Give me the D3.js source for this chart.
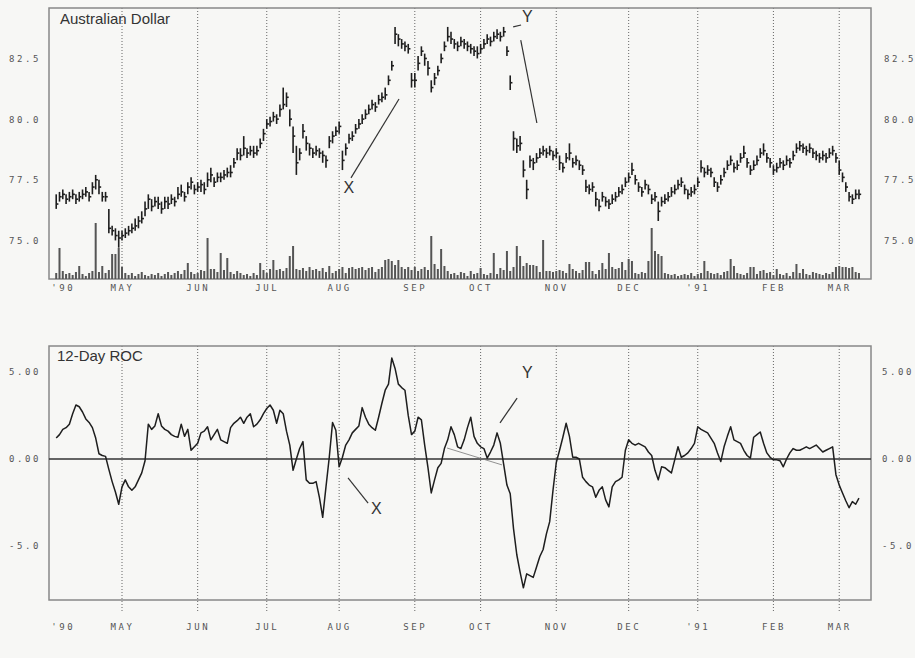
<!DOCTYPE html>
<html><head><meta charset="utf-8">
<script src="https://cdn.jsdelivr.net/npm/d3@7"></script>
<style>
body{margin:0;background:#f7f7f5;}
svg{display:block;}
.tick text{font-family:"DejaVu Sans Mono",monospace;font-size:9px;fill:#555;letter-spacing:2.6px;}
</style></head>
<body><svg id="c" width="915" height="658"></svg>
<script>
// ---------- DATA ----------
const firstDay = 1; // trading-day index of the first bar (day 0 = 2 Apr 1990)
const close = [
76.5,76.8,76.9,76.7,76.8,76.9,76.7,76.8,76.9,77.0,
76.8,77.2,77.5,77.2,76.8,76.8,75.5,75.4,75.2,75.1,
75.2,75.3,75.4,75.5,75.6,75.8,75.9,76.3,76.7,76.4,
76.6,76.5,76.3,76.6,76.5,76.7,76.6,76.9,77.0,76.8,
77.2,77.4,77.1,77.2,77.3,77.1,77.5,77.7,77.4,77.6,
77.6,77.7,77.8,77.8,78.2,78.6,78.5,78.8,78.6,78.7,
78.6,78.7,79.0,79.4,79.8,79.9,80.1,80.0,80.4,80.6,
80.9,80.0,79.3,78.2,78.6,79.5,79.0,78.8,78.6,78.7,
78.6,78.5,78.3,79.1,79.3,79.5,79.7,78.3,78.8,79.2,
79.3,79.6,79.8,80.0,80.2,80.4,80.6,80.5,80.8,80.9,
81.0,81.6,82.2,83.5,83.3,83.1,83.0,82.9,81.6,81.6,
82.3,82.8,82.5,82.1,81.3,81.7,82.0,82.5,83.0,83.4,
83.3,83.1,83.0,83.2,83.1,83.0,82.9,82.8,82.7,82.9,
83.1,83.3,83.2,83.4,83.5,83.4,83.6,82.8,81.5,79.2,
78.9,79.0,77.9,77.1,78.3,78.2,78.4,78.6,78.7,78.6,
78.7,78.5,78.6,78.2,78.0,78.4,78.6,78.2,78.3,78.1,
77.9,77.2,77.1,77.2,76.7,76.4,76.8,76.6,76.5,76.7,
76.8,77.0,77.1,77.4,77.6,77.9,77.5,77.2,77.0,77.3,
77.1,76.7,76.8,76.2,76.6,76.7,76.8,77.0,77.1,77.3,
77.4,77.1,76.9,77.0,77.1,77.4,78.0,77.8,77.9,77.8,
77.4,77.2,77.5,77.8,78.1,78.3,78.0,78.1,78.4,78.6,
78.2,77.9,78.1,78.3,78.6,78.7,78.4,78.2,77.9,78.0,
78.2,78.1,78.3,78.2,78.5,78.8,78.9,78.8,78.7,78.8,
78.6,78.5,78.4,78.5,78.4,78.6,78.7,78.4,77.9,77.6,
77.2,76.8,76.7,76.9,76.9];
const high = [
76.9,77.0,77.1,76.9,77.0,77.1,76.9,77.0,77.1,77.2,
77.0,77.4,77.7,77.5,77.0,77.0,76.3,75.6,75.5,75.4,
75.4,75.5,75.6,75.7,75.9,76.0,76.2,76.6,76.9,76.7,
76.8,76.8,76.6,76.8,76.8,76.9,76.8,77.2,77.3,77.0,
77.4,77.6,77.3,77.4,77.5,77.4,77.8,78.0,77.6,77.8,
77.8,77.9,78.0,78.1,78.4,78.8,78.8,79.3,78.8,78.9,
78.9,78.9,79.2,79.6,80.0,80.1,80.3,80.2,80.6,81.3,
81.1,80.4,79.7,78.9,78.8,79.8,79.3,79.0,78.8,78.9,
78.8,78.7,78.5,79.3,79.5,79.7,79.9,78.7,79.0,79.4,
79.5,79.8,80.0,80.2,80.4,80.6,80.8,80.7,81.0,81.1,
81.3,81.8,82.4,83.8,83.5,83.3,83.2,83.1,81.9,81.9,
82.6,83.0,82.7,82.4,81.6,81.9,82.2,82.7,83.2,83.8,
83.6,83.3,83.2,83.4,83.3,83.2,83.1,83.0,83.0,83.1,
83.3,83.5,83.4,83.6,83.7,83.6,83.8,83.0,81.8,79.5,
79.2,79.3,78.3,77.5,78.5,78.4,78.6,78.8,78.9,78.8,
78.9,78.7,78.8,78.5,78.2,78.6,79.0,78.4,78.5,78.3,
78.1,77.5,77.3,77.4,77.0,76.7,77.0,76.8,76.7,76.9,
77.0,77.2,77.3,77.6,77.8,78.2,77.7,77.4,77.2,77.5,
77.3,76.9,77.0,76.6,76.8,76.9,77.0,77.2,77.3,77.5,
77.6,77.3,77.1,77.2,77.3,77.6,78.3,78.0,78.1,78.0,
77.6,77.4,77.7,78.0,78.3,78.5,78.2,78.3,78.6,78.9,
78.4,78.1,78.3,78.5,78.8,79.0,78.6,78.4,78.1,78.2,
78.4,78.3,78.5,78.4,78.7,79.0,79.1,79.0,78.9,79.0,
78.8,78.7,78.6,78.7,78.6,78.8,78.9,78.6,78.3,77.8,
77.4,77.0,76.9,77.1,77.1];
const low = [
76.3,76.6,76.7,76.5,76.6,76.7,76.5,76.6,76.7,76.8,
76.6,76.9,77.1,76.9,76.6,76.6,75.3,75.2,75.0,74.7,
75.0,75.1,75.2,75.3,75.4,75.5,75.7,76.0,76.3,76.2,
76.4,76.3,76.1,76.3,76.3,76.5,76.4,76.7,76.8,76.6,
76.9,77.1,76.9,77.0,77.0,76.9,77.2,77.4,77.2,77.4,
77.4,77.5,77.6,77.6,78.0,78.3,78.3,78.5,78.4,78.5,
78.4,78.5,78.8,79.1,79.6,79.7,79.9,79.8,80.1,80.4,
80.5,79.7,78.6,77.7,78.3,79.2,78.7,78.5,78.4,78.5,
78.4,78.2,78.0,78.8,79.0,79.3,79.4,77.9,78.5,79.0,
79.1,79.4,79.6,79.8,80.0,80.2,80.4,80.3,80.6,80.7,
80.8,81.4,82.0,83.1,83.0,82.9,82.8,82.7,81.3,81.3,
82.0,82.6,82.2,81.8,81.1,81.4,81.8,82.3,82.8,83.2,
83.1,82.9,82.8,83.0,82.9,82.8,82.7,82.6,82.5,82.7,
82.9,83.1,83.0,83.2,83.3,83.2,83.4,82.6,81.2,78.7,
78.6,78.7,77.6,76.7,78.0,77.9,78.2,78.4,78.5,78.4,
78.5,78.3,78.4,77.9,77.8,78.2,78.3,78.0,78.1,77.9,
77.7,77.0,76.9,77.0,76.4,76.2,76.6,76.4,76.3,76.5,
76.6,76.8,76.9,77.2,77.4,77.7,77.3,77.0,76.8,77.1,
76.9,76.5,76.6,75.8,76.4,76.5,76.6,76.8,76.9,77.1,
77.2,76.9,76.7,76.8,76.9,77.2,77.8,77.6,77.7,77.6,
77.2,77.0,77.3,77.6,77.9,78.1,77.8,77.9,78.2,78.4,
78.0,77.7,77.9,78.1,78.4,78.5,78.2,78.0,77.7,77.8,
78.0,77.9,78.1,78.0,78.3,78.6,78.7,78.6,78.5,78.6,
78.4,78.3,78.2,78.3,78.2,78.4,78.5,78.2,77.7,77.4,
77.0,76.6,76.5,76.7,76.7];
const volume = [
6,31,8,5,6,4,7,13,5,3,
6,8,56,7,13,6,9,25,25,31,
12,6,4,6,3,5,7,4,3,5,
4,6,3,5,7,4,6,8,5,9,
16,7,5,6,9,8,41,10,10,7,
26,9,21,7,5,8,6,4,5,3,
6,4,16,9,6,10,19,9,10,8,
11,23,33,10,9,11,8,12,9,10,
8,11,7,13,6,8,10,12,6,11,
12,10,11,12,9,11,12,7,10,12,
19,20,18,14,19,12,10,12,9,12,
8,10,12,9,43,15,10,30,13,8,
5,6,4,7,6,3,8,5,6,11,
5,4,6,26,5,11,9,28,8,12,
33,23,13,16,14,14,13,7,39,8,
8,7,8,9,8,6,15,10,8,6,
9,17,17,8,5,9,16,10,26,12,
10,11,17,9,20,18,6,5,7,6,
18,51,28,25,23,6,5,4,5,3,
4,5,4,6,3,5,6,18,8,6,
5,6,4,7,8,20,13,6,5,4,
6,12,12,5,8,9,6,7,4,10,
5,4,6,3,7,15,6,10,5,4,
7,6,5,4,6,5,7,12,13,12,
12,11,12,7,6];
const roc = [
1.2,1.4,1.7,1.8,2.0,2.6,3.1,3.0,2.7,2.3,
2.1,1.8,1.2,0.3,0.2,0.15,-0.6,-1.3,-1.9,-2.6,
-1.6,-1.2,-1.6,-1.8,-1.6,-1.2,-0.8,-0.1,2.0,1.7,
1.9,2.6,1.9,1.7,1.6,1.4,1.3,1.25,2.0,1.3,
1.7,0.5,0.7,0.9,1.5,1.6,1.85,1.1,1.4,1.7,
1.1,1.0,0.9,1.8,2.05,2.2,2.4,2.05,2.4,2.6,
1.85,2.0,2.25,2.6,2.9,3.1,2.8,2.05,2.8,2.6,
1.6,0.8,-0.65,0.0,0.6,1.0,-1.2,-1.4,-1.4,-1.3,
-2.2,-3.35,-1.6,0.1,2.1,1.65,-0.45,0.1,0.8,1.1,
1.5,1.7,1.9,2.95,2.4,2.0,1.8,1.65,2.4,3.2,
3.95,4.3,5.8,5.2,4.3,4.1,3.95,2.5,1.4,1.6,
2.4,2.25,0.8,-0.5,-1.95,-1.2,-0.5,-0.25,0.6,1.1,
1.85,1.4,0.7,0.6,1.1,1.8,2.4,1.3,0.9,0.7,
0.6,0.05,0.4,0.8,1.5,0.9,-0.3,-1.5,-2.0,-4.0,
-5.5,-6.5,-7.4,-6.6,-6.7,-6.8,-6.2,-5.6,-5.2,-4.3,
-3.6,-1.8,-0.2,0.5,1.25,2.05,1.3,0.1,0.1,0.0,
-1.05,-1.3,-1.5,-1.6,-2.2,-1.8,-1.6,-2.35,-2.75,-1.6,
-1.3,-1.2,-1.05,0.5,1.1,0.9,0.8,0.9,0.8,0.7,
0.4,0.2,-0.65,-1.2,-0.45,-0.5,-0.65,-0.8,-0.05,0.7,
0.1,0.2,0.35,0.6,0.9,1.85,1.7,1.6,1.5,1.2,
0.9,0.35,-0.15,0.7,1.3,1.85,1.1,1.0,0.9,0.5,
0.2,0.05,1.25,1.4,1.55,0.9,0.35,0.1,-0.05,-0.05,
-0.1,-0.45,0.0,0.35,0.6,0.5,0.5,0.6,0.7,0.6,
0.7,0.8,0.6,0.4,0.5,0.6,0.7,-0.9,-1.5,-1.95,
-2.4,-2.8,-2.45,-2.6,-2.25];
const monthLabels = ["'90","MAY","JUN","JUL","AUG","SEP","OCT","NOV","DEC","'91","FEB","MAR"];
const monthDays   = [3,21,44,65,87,110,130,153,175,196,219,239];
const priceTicks = [75, 77.5, 80, 82.5];
const priceTickLabels = ["75.0","77.5","80.0","82.5"];
const rocTicks = [5, 0, -5];
const rocTickLabels = ["5.00","0.00","-5.0"];
const titleTop = "Australian Dollar";
const titleBottom = "12-Day ROC";

// ---------- LAYOUT ----------
const svg = d3.select("#c");
const L = 49, R = 871;
const topP = {t: 8, b: 279};
const botP = {t: 346, b: 600};

const x = d3.scaleLinear().domain([-1.19, 248.66]).range([L, R]);
const yP = d3.scaleLinear().domain([73.41, 84.58]).range([topP.b, topP.t]);
const yV = d3.scaleLinear().domain([0, 60]).range([topP.b, topP.b - 60]);
const yR = d3.scaleLinear().domain([-8.10, 6.49]).range([botP.b, botP.t]);

const bars = close.map((c, i) => ({d: firstDay + i, c, h: high[i], l: low[i], v: volume[i], r: roc[i]}));

// gridlines
const gridDays = monthDays.slice(1);
svg.append("g").selectAll("line").data(gridDays).join("line")
  .attr("x1", d => x(d)).attr("x2", d => x(d))
  .attr("y1", topP.t).attr("y2", topP.b + 2)
  .attr("stroke", "#666").attr("stroke-width", 1).attr("stroke-dasharray", "1,2");
svg.append("g").selectAll("line").data(gridDays).join("line")
  .attr("x1", d => x(d)).attr("x2", d => x(d))
  .attr("y1", botP.t).attr("y2", botP.b + 12)
  .attr("stroke", "#666").attr("stroke-width", 1).attr("stroke-dasharray", "1,2");

// frames
[topP, botP].forEach(p => {
  svg.append("rect").attr("x", L).attr("y", p.t).attr("width", R - L).attr("height", p.b - p.t)
    .attr("fill", "none").attr("stroke", "#888").attr("stroke-width", 1.5);
});

// volume
svg.append("g").selectAll("rect").data(bars).join("rect")
  .attr("x", d => x(d.d) - 1).attr("width", 2)
  .attr("y", d => yV(d.v)).attr("height", d => yV(0) - yV(d.v))
  .attr("fill", "#555");

// price bars
const pg = svg.append("g").attr("stroke", "#1e1e1e").attr("stroke-width", 1.6);
pg.selectAll("line.hl").data(bars).join("line").attr("class", "hl")
  .attr("x1", d => x(d.d)).attr("x2", d => x(d.d))
  .attr("y1", d => yP(d.h)).attr("y2", d => yP(d.l));
pg.selectAll("line.cl").data(bars).join("line").attr("class", "cl")
  .attr("x1", d => x(d.d)).attr("x2", d => x(d.d) + 2.2)
  .attr("y1", d => yP(d.c)).attr("y2", d => yP(d.c));

// ROC zero line + line
svg.append("line").attr("x1", L).attr("x2", R).attr("y1", yR(0)).attr("y2", yR(0))
  .attr("stroke", "#333").attr("stroke-width", 1.4);
svg.append("path").datum(bars)
  .attr("d", d3.line().x(d => x(d.d)).y(d => yR(d.r)))
  .attr("fill", "none").attr("stroke", "#1e1e1e").attr("stroke-width", 1.5).attr("stroke-linejoin", "round");

// axes
function styleAxis(g){ g.select(".domain").remove(); g.selectAll(".tick line").remove(); }
svg.append("g").attr("transform", `translate(44,0)`)
  .call(d3.axisLeft(yP).tickValues(priceTicks).tickFormat((d,i)=>priceTickLabels[i]).tickSize(0)).call(styleAxis);
svg.append("g").attr("transform", `translate(881,0)`)
  .call(d3.axisRight(yP).tickValues(priceTicks).tickFormat((d,i)=>priceTickLabels[i]).tickSize(0)).call(styleAxis);
svg.append("g").attr("transform", `translate(44,0)`)
  .call(d3.axisLeft(yR).tickValues(rocTicks).tickFormat((d,i)=>rocTickLabels[i]).tickSize(0)).call(styleAxis);
svg.append("g").attr("transform", `translate(879,0)`)
  .call(d3.axisRight(yR).tickValues(rocTicks).tickFormat((d,i)=>rocTickLabels[i]).tickSize(0)).call(styleAxis);
svg.append("g").attr("transform", `translate(0,${topP.b + 3})`)
  .call(d3.axisBottom(x).tickValues(monthDays).tickFormat((d,i)=>monthLabels[i]).tickSize(0)).call(styleAxis);
svg.append("g").attr("transform", `translate(0,${botP.b + 21})`)
  .call(d3.axisBottom(x).tickValues(monthDays).tickFormat((d,i)=>monthLabels[i]).tickSize(0)).call(styleAxis);

// titles
svg.append("text").attr("x", 60).attr("y", 24).text(titleTop)
  .attr("font-family", "Liberation Sans, Arial, sans-serif").attr("font-size", 15).attr("fill", "#333");
svg.append("text").attr("x", 57).attr("y", 361).text(titleBottom)
  .attr("font-family", "Liberation Sans, Arial, sans-serif").attr("font-size", 15).attr("fill", "#333");

// annotations (in data coordinates)
const ann = svg.append("g").attr("stroke", "#333").attr("stroke-width", 1.2);
const annText = (t, px, py) => svg.append("text").attr("x", px).attr("y", py).text(t)
  .attr("font-family", "Liberation Sans, Arial, sans-serif").attr("font-size", 16).attr("fill", "#333");
ann.append("line").attr("x1", x(90.6)).attr("y1", yP(77.58)).attr("x2", x(105.2)).attr("y2", yP(80.83));
annText("X", x(88.3), yP(76.95));
ann.append("line").attr("x1", x(139.9)).attr("y1", yP(83.80)).attr("x2", x(142.3)).attr("y2", yP(83.88));
annText("Y", x(142.6), yP(84.0));
ann.append("line").attr("x1", x(142.2)).attr("y1", yP(83.26)).attr("x2", x(147.1)).attr("y2", yP(79.84));
ann.append("line").attr("x1", x(89.7)).attr("y1", yR(-1.09)).attr("x2", x(95.8)).attr("y2", yR(-2.53));
annText("X", x(96.7), yR(-3.16));
ann.append("line").attr("x1", x(141.1)).attr("y1", yR(3.5)).attr("x2", x(135.9)).attr("y2", yR(2.07));
annText("Y", x(142.6), yR(4.66));
ann.append("line").attr("x1", x(119.8)).attr("y1", yR(0.63)).attr("x2", x(136.5)).attr("y2", yR(-0.34))
  .attr("stroke-width", 0.8).attr("stroke", "#777");
</script></body></html>
